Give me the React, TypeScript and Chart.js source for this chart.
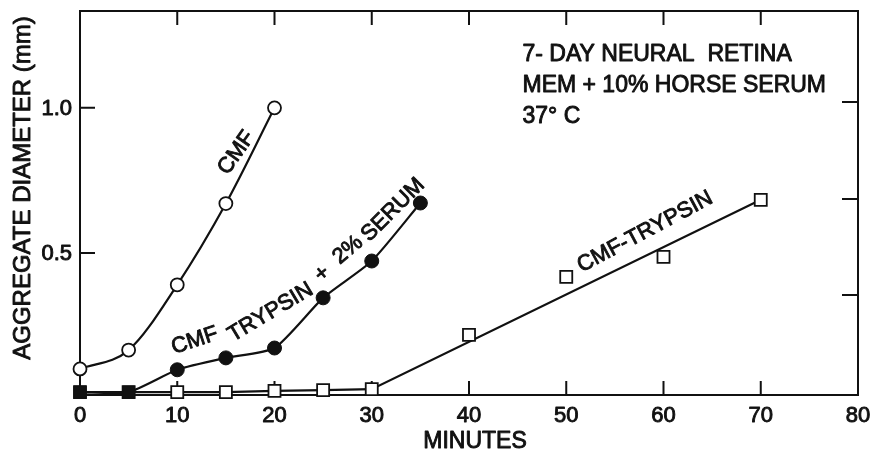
import React, { useEffect, useRef } from 'react';
import { Chart, registerables } from 'chart.js';

Chart.register(...registerables);

// Aggregate diameter (mm) against time (minutes)
const cmfMinutes = [0, 5, 10, 15, 20];
const cmfDiameter = [0.1, 0.165, 0.39, 0.67, 1.0];

const serumMinutes = [0, 5, 10, 15, 20, 25, 30, 35];
const serumDiameter = [0.02, 0.02, 0.097, 0.138, 0.172, 0.345, 0.472, 0.672];

const trypsinMinutes = [0, 5, 10, 15, 20, 25, 30, 40, 50, 60, 70];
const trypsinDiameter = [0.02, 0.02, 0.02, 0.02, 0.024, 0.027, 0.03, 0.217, 0.417, 0.486, 0.683];

// hand-drawn trend line through the CMF-trypsin series
const trypsinFitMinutes = [0, 5, 10, 15, 20, 25, 30, 70];
const trypsinFitDiameter = [0.02, 0.02, 0.02, 0.02, 0.024, 0.027, 0.03, 0.683];

// axis ticks
const xTickValues = [0, 10, 20, 30, 40, 50, 60, 70, 80];
const yTickValues = [0.5, 1.0];
const frameTickMinutes = [10, 20, 30, 40, 50, 60, 70];
const rightTickValues = [0.355, 0.686, 1.02];

const xTitle = 'MINUTES';
const yTitle = 'AGGREGATE DIAMETER (mm)';
const noteLines = ['7- DAY NEURAL  RETINA', 'MEM + 10% HORSE SERUM', '37° C'];

// curve labels, placed in data coordinates
const curveLabels = [
  { text: 'CMF', x: 16.1, y: 0.845, angle: -55 },
  { text: 'CMF', x: 11.8, y: 0.197, angle: -18 },
  { text: 'TRYPSIN', x: 19.6, y: 0.295, angle: -31 },
  { text: '+', x: 24.9, y: 0.428, angle: -40 },
  { text: '2%', x: 27.55, y: 0.51, angle: -40 },
  { text: 'SERUM', x: 32.2, y: 0.648, angle: -45 },
  { text: 'CMF-TRYPSIN', x: 58.1, y: 0.572, angle: -28 },
];

const INK = '#111111';
const FAMILY = "'Liberation Sans', Arial, sans-serif";

const pairs = (xs: number[], ys: number[]) => xs.map((x, i) => ({ x, y: ys[i] }));

// filled text with a thin outline to give the lettering its pen weight
function ink(ctx: CanvasRenderingContext2D, text: string, x: number, y: number) {
  ctx.fillText(text, x, y);
  ctx.strokeText(text, x, y);
}

const framePlugin = {
  id: 'frame',
  beforeDatasetsDraw(chart: any) {
    const { ctx, chartArea: a, scales } = chart;
    const xs = scales.x;
    const ys = scales.y;
    ctx.save();
    ctx.strokeStyle = INK;
    ctx.lineWidth = 2;
    ctx.strokeRect(a.left, a.top, a.right - a.left, a.bottom - a.top);
    ctx.beginPath();
    for (const v of frameTickMinutes) {
      const px = xs.getPixelForValue(v);
      ctx.moveTo(px, a.bottom);
      ctx.lineTo(px, a.bottom - 14);
      ctx.moveTo(px, a.top);
      ctx.lineTo(px, a.top + 14);
    }
    for (const v of yTickValues) {
      const py = ys.getPixelForValue(v);
      ctx.moveTo(a.left, py);
      ctx.lineTo(a.left + 15, py);
    }
    for (const v of rightTickValues) {
      const py = ys.getPixelForValue(v);
      ctx.moveTo(a.right, py);
      ctx.lineTo(a.right - 16, py);
    }
    ctx.stroke();
    ctx.restore();
  },
  afterDraw(chart: any) {
    const { ctx, chartArea: a, scales } = chart;
    const xs = scales.x;
    const ys = scales.y;
    ctx.save();
    ctx.fillStyle = INK;
    ctx.strokeStyle = INK;
    ctx.lineWidth = 0.9;
    ctx.lineJoin = 'round';

    // tick labels
    ctx.font = `22px ${FAMILY}`;
    ctx.textAlign = 'center';
    ctx.textBaseline = 'alphabetic';
    for (const v of xTickValues) ink(ctx, String(v), xs.getPixelForValue(v), 422);
    ctx.textAlign = 'right';
    ctx.textBaseline = 'middle';
    for (const v of yTickValues) ink(ctx, v.toFixed(1), a.left - 8, ys.getPixelForValue(v) + 1);

    // axis titles
    ctx.font = `23px ${FAMILY}`;
    ctx.textAlign = 'center';
    ctx.textBaseline = 'alphabetic';
    ink(ctx, xTitle, 475, 448);

    ctx.save();
    ctx.font = `24px ${FAMILY}`;
    ctx.translate(30, 188);
    ctx.rotate(-Math.PI / 2);
    ink(ctx, yTitle, 0, 0);
    ctx.restore();

    // conditions note
    ctx.font = `23px ${FAMILY}`;
    ctx.textAlign = 'left';
    const nx = xs.getPixelForValue(45.5);
    const ny = ys.getPixelForValue(1.16);
    noteLines.forEach((line, i) => ink(ctx, line, nx, ny + i * 31));

    // labels along the curves
    ctx.font = `22px ${FAMILY}`;
    ctx.textAlign = 'center';
    ctx.textBaseline = 'middle';
    for (const l of curveLabels) {
      ctx.save();
      ctx.translate(xs.getPixelForValue(l.x), ys.getPixelForValue(l.y));
      ctx.rotate((l.angle * Math.PI) / 180);
      ink(ctx, l.text, 0, 0);
      ctx.restore();
    }
    ctx.restore();
  },
};

export default function App() {
  const canvasRef = useRef<HTMLCanvasElement | null>(null);

  useEffect(() => {
    const canvas = canvasRef.current;
    if (!canvas) return;
    const chart = new Chart(canvas, {
      type: 'scatter',
      data: {
        datasets: [
          {
            label: 'CMF TRYPSIN + 2% SERUM',
            data: pairs(serumMinutes, serumDiameter),
            showLine: true,
            borderColor: INK,
            borderWidth: 2.2,
            tension: 0.2,
            pointStyle: serumMinutes.map((m) => (m < 10 ? 'rect' : 'circle')),
            pointRadius: serumMinutes.map((m) => (m < 10 ? 8.5 : 7)),
            pointBackgroundColor: INK,
            pointBorderColor: INK,
            pointBorderWidth: 1,
            clip: false,
          } as any,
          {
            label: 'CMF-TRYPSIN',
            data: pairs(trypsinMinutes, trypsinDiameter),
            showLine: false,
            pointStyle: 'rect',
            pointRadius: 8.5,
            pointBackgroundColor: '#ffffff',
            pointBorderColor: INK,
            pointBorderWidth: 1.8,
            clip: false,
          } as any,
          {
            label: 'CMF',
            data: pairs(cmfMinutes, cmfDiameter),
            showLine: true,
            borderColor: INK,
            borderWidth: 2.2,
            cubicInterpolationMode: 'monotone',
            pointStyle: 'circle',
            pointRadius: 6.5,
            pointBackgroundColor: '#ffffff',
            pointBorderColor: INK,
            pointBorderWidth: 1.8,
            clip: false,
          } as any,
          {
            label: 'CMF-TRYPSIN trend',
            data: pairs(trypsinFitMinutes, trypsinFitDiameter),
            showLine: true,
            borderColor: INK,
            borderWidth: 2.2,
            tension: 0,
            pointRadius: 0,
            clip: false,
          } as any,
        ],
      },
      options: {
        animation: false,
        responsive: false,
        maintainAspectRatio: false,
        layout: { padding: { top: 11, right: 20, left: 80, bottom: 60 } },
        plugins: {
          legend: { display: false },
          tooltip: { enabled: false },
        },
        scales: {
          x: { type: 'linear', min: 0, max: 80, display: false },
          y: { type: 'linear', min: 0.01, max: 1.334, display: false },
        },
      } as any,
      plugins: [framePlugin],
    });
    return () => chart.destroy();
  }, []);

  return (
    <div style={{ position: 'fixed', left: 0, top: 0, width: 878, height: 455, background: '#ffffff' }}>
      <canvas ref={canvasRef} width={878} height={455} style={{ display: 'block' }} />
    </div>
  );
}
